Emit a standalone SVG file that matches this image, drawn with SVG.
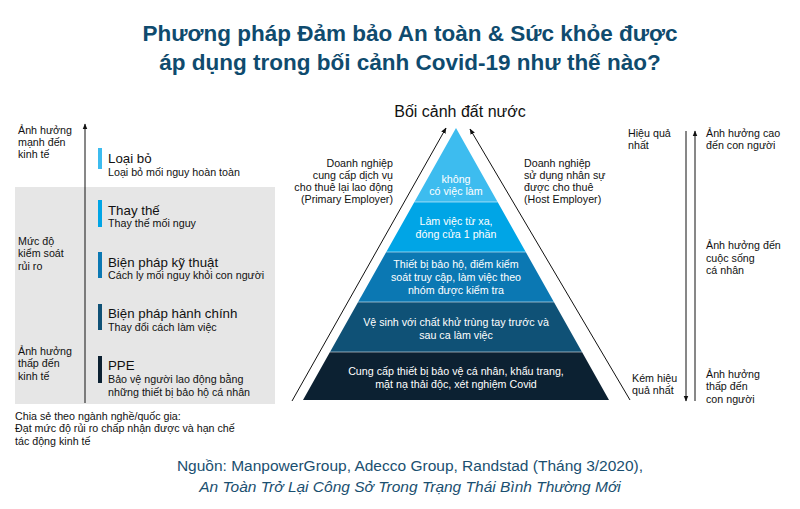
<svg xmlns="http://www.w3.org/2000/svg" width="800" height="509" viewBox="0 0 800 509">
<defs>
<style>
text{font-family:"Liberation Sans",Arial,sans-serif;fill:#111}
.t{font-weight:bold;font-size:22.5px;fill:#0f4b6e;text-anchor:middle}
.s{font-size:10.7px}
.h{font-size:13.3px}
.w{font-size:10.7px;fill:#fff;text-anchor:middle}
.src{font-size:15.5px;fill:#1a4f70;text-anchor:middle}
.ln{stroke:#111;stroke-width:1;fill:none}
.sep{stroke:#fff;stroke-opacity:0.55;stroke-width:1}
</style>
<marker id="ah" viewBox="0 0 10 10" refX="9" refY="5" markerWidth="6" markerHeight="6" orient="auto-start-reverse" markerUnits="userSpaceOnUse">
<path d="M0,1 L10,5 L0,9 z" fill="#111"/>
</marker>
</defs>
<rect width="800" height="509" fill="#fff"/>

<g id="title">
<text class="t" x="410" y="41">Phương pháp Đảm bảo An toàn &amp; Sức khỏe được</text>
<text class="t" x="410" y="70">áp dụng trong bối cảnh Covid-19 như thế nào?</text>
</g>

<rect id="gray-box" x="15" y="187" width="260" height="217" fill="#e6e6e6"/>

<g id="connectors">
<line class="ln" x1="85" y1="403" x2="85" y2="124" marker-end="url(#ah)"/>
<line class="ln" x1="292" y1="401" x2="446" y2="128" marker-end="url(#ah)"/>
<line class="ln" x1="630" y1="400" x2="470" y2="129" marker-end="url(#ah)"/>
<line class="ln" x1="686" y1="131" x2="686" y2="401" marker-end="url(#ah)"/>
<line class="ln" x1="695" y1="401" x2="695" y2="131" marker-end="url(#ah)"/>
</g>

<g id="left-labels">
<text class="s" x="18" y="134">Ảnh hưởng</text>
<text class="s" x="18" y="146">mạnh đến</text>
<text class="s" x="18" y="158">kinh tế</text>
<text class="s" x="18" y="245">Mức độ</text>
<text class="s" x="18" y="257">kiểm soát</text>
<text class="s" x="18" y="270">rủi ro</text>
<text class="s" x="18" y="355">Ảnh hưởng</text>
<text class="s" x="18" y="367">thấp đến</text>
<text class="s" x="18" y="380">kinh tế</text>
</g>

<g id="item-loai-bo">
<rect x="98" y="148" width="4" height="21" fill="#3dbcef"/>
<text class="h" x="108" y="163">Loại bỏ</text>
<text class="s" x="108" y="176">Loại bỏ mối nguy hoàn toàn</text>
</g>
<g id="item-thay-the">
<rect x="98" y="200" width="4" height="27" fill="#00a5e6"/>
<text class="h" x="108" y="215">Thay thế</text>
<text class="s" x="108" y="227">Thay thế mối nguy</text>
</g>
<g id="item-ky-thuat">
<rect x="98" y="252" width="4" height="26" fill="#0b78b3"/>
<text class="h" x="108" y="267">Biện pháp kỹ thuật</text>
<text class="s" x="108" y="279">Cách ly mối nguy khỏi con người</text>
</g>
<g id="item-hanh-chinh">
<rect x="98" y="304" width="4" height="26" fill="#0f5176"/>
<text class="h" x="108" y="318">Biện pháp hành chính</text>
<text class="s" x="108" y="331">Thay đổi cách làm việc</text>
</g>
<g id="item-ppe">
<rect x="98" y="356" width="4" height="27" fill="#0c2132"/>
<text class="h" x="108" y="370">PPE</text>
<text class="s" x="108" y="383">Bảo vệ người lao động bằng</text>
<text class="s" x="108" y="396">những thiết bị bảo hộ cá nhân</text>
</g>

<g id="left-note">
<text class="s" x="15" y="420">Chia sẻ theo ngành nghề/quốc gia:</text>
<text class="s" x="15" y="432">Đạt mức độ rủi ro chấp nhận được và hạn chế</text>
<text class="s" x="15" y="445">tác động kinh tế</text>
</g>

<g id="pyramid-top-label">
<text x="460" y="117" style="font-size:16px;text-anchor:middle">Bối cảnh đất nước</text>
</g>

<g id="primary-employer">
<text class="s" x="393" y="167" text-anchor="end">Doanh nghiệp</text>
<text class="s" x="393" y="179" text-anchor="end">cung cấp dịch vụ</text>
<text class="s" x="393" y="191" text-anchor="end">cho thuê lại lao động</text>
<text class="s" x="393" y="203" text-anchor="end">(Primary Employer)</text>
</g>

<g id="host-employer">
<text class="s" x="524" y="167">Doanh nghiệp</text>
<text class="s" x="524" y="179">sử dụng nhân sự</text>
<text class="s" x="524" y="191">được cho thuê</text>
<text class="s" x="524" y="203">(Host Employer)</text>
</g>

<g id="level-1">
<polygon points="456,128 497.6,202 414.4,202" fill="#3dbcef"/>
<text class="w" x="456" y="183">không</text>
<text class="w" x="456" y="195">có việc làm</text>
</g>
<g id="level-2">
<polygon points="414.4,202 497.6,202 525.75,252 386.25,252" fill="#00a5e6"/>
<text class="w" x="456" y="225">Làm việc từ xa,</text>
<text class="w" x="456" y="238">đóng cửa 1 phần</text>
</g>
<g id="level-3">
<polygon points="386.25,252 525.75,252 553.9,302 358.1,302" fill="#0b78b3"/>
<text class="w" x="456" y="268">Thiết bị bảo hộ, điểm kiểm</text>
<text class="w" x="456" y="281">soát truy cập, làm việc theo</text>
<text class="w" x="456" y="294">nhóm được kiểm tra</text>
</g>
<g id="level-4">
<polygon points="358.1,302 553.9,302 582,352 330,352" fill="#0f5176"/>
<text class="w" x="456" y="326">Vệ sinh với chất khử trùng tay trước và</text>
<text class="w" x="456" y="339">sau ca làm việc</text>
</g>
<g id="level-5">
<polygon points="330,352 582,352 609,400 303,400" fill="#0c2132"/>
<text class="w" x="456" y="375">Cung cấp thiết bị bảo vệ cá nhân, khẩu trang,</text>
<text class="w" x="456" y="388">mặt nạ thải độc, xét nghiệm Covid</text>
</g>
<g id="separators">
<line class="sep" x1="414.4" y1="202" x2="497.6" y2="202"/>
<line class="sep" x1="386.25" y1="252" x2="525.75" y2="252"/>
<line class="sep" x1="358.1" y1="302" x2="553.9" y2="302"/>
<line class="sep" x1="330" y1="352" x2="582" y2="352"/>
</g>

<g id="right-labels">
<text class="s" x="628" y="137">Hiệu quả</text>
<text class="s" x="628" y="149">nhất</text>
<text class="s" x="632" y="382">Kém hiệu</text>
<text class="s" x="632" y="394">quả nhất</text>
<text class="s" x="706" y="137">Ảnh hưởng cao</text>
<text class="s" x="706" y="149">đến con người</text>
<text class="s" x="706" y="249">Ảnh hưởng đến</text>
<text class="s" x="706" y="262">cuộc sống</text>
<text class="s" x="706" y="274">cá nhân</text>
<text class="s" x="706" y="378">Ảnh hưởng</text>
<text class="s" x="706" y="390">thấp đến</text>
<text class="s" x="706" y="403">con người</text>
</g>

<g id="source">
<text class="src" x="410" y="471">Nguồn: ManpowerGroup, Adecco Group, Randstad (Tháng 3/2020),</text>
<text class="src" x="410" y="492" font-style="italic">An Toàn Trở Lại Công Sở Trong Trạng Thái Bình Thường Mới</text>
</g>
</svg>
